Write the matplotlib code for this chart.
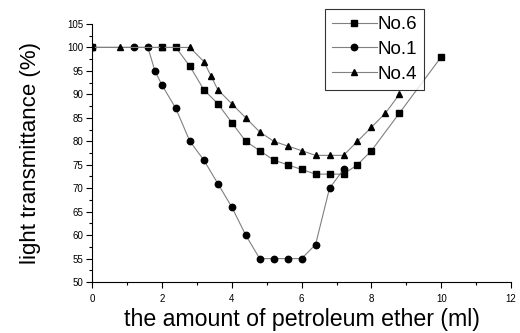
import matplotlib.pyplot as plt
from matplotlib.ticker import MultipleLocator

plt.rcParams['font.family'] = ['Liberation Sans', 'DejaVu Sans']

# No.6 (squares)
x6 = [0, 2.0, 2.4, 2.8, 3.2, 3.6, 4.0, 4.4, 4.8, 5.2, 5.6, 6.0, 6.4, 6.8, 7.2, 7.6, 8.0, 8.8, 10.0]
y6 = [100, 100, 100, 96, 91, 88, 84, 80, 78, 76, 75, 74, 73, 73, 73, 75, 78, 86, 98]

# No.1 (circles)
x1 = [0, 1.2, 1.6, 1.8, 2.0, 2.4, 2.8, 3.2, 3.6, 4.0, 4.4, 4.8, 5.2, 5.6, 6.0, 6.4, 6.8, 7.2]
y1 = [100, 100, 100, 95, 92, 87, 80, 76, 71, 66, 60, 55, 55, 55, 55, 58, 70, 74]

# No.4 (triangles)
x4 = [0, 0.8, 2.0, 2.8, 3.2, 3.4, 3.6, 4.0, 4.4, 4.8, 5.2, 5.6, 6.0, 6.4, 6.8, 7.2, 7.6, 8.0, 8.4, 8.8]
y4 = [100, 100, 100, 100, 97, 94, 91, 88, 85, 82, 80, 79, 78, 77, 77, 77, 80, 83, 86, 90]

fig = plt.figure(figsize=(5.2, 3.33), dpi=100)
ax = fig.add_axes([0.177, 0.153, 0.806, 0.775])

line_kw = dict(color='#808080', linewidth=0.8, markerfacecolor='black',
               markeredgecolor='black')
ax.plot(x6, y6, marker='s', markersize=4.2, label='No.6', **line_kw)
ax.plot(x1, y1, marker='o', markersize=4.6, label='No.1', **line_kw)
ax.plot(x4, y4, marker='^', markersize=5, label='No.4', **line_kw)

ax.set_xlim(0, 12)
ax.set_ylim(50, 105)
ax.xaxis.set_major_locator(MultipleLocator(2))
ax.xaxis.set_minor_locator(MultipleLocator(1))
ax.yaxis.set_major_locator(MultipleLocator(5))
ax.yaxis.set_minor_locator(MultipleLocator(2.5))
ax.tick_params(which='major', direction='out', length=4.5, width=0.8, labelsize=7)
ax.tick_params(axis='x', which='major', pad=4)
ax.tick_params(axis='y', which='major', pad=1.5)
ax.tick_params(which='minor', direction='out', length=2.5, width=0.8)

ax.spines['top'].set_visible(False)
ax.spines['right'].set_visible(False)
for s in ('left', 'bottom'):
    ax.spines[s].set_linewidth(0.8)

ax.set_xlabel('the amount of petroleum ether (ml)', fontsize=16.7, labelpad=3)
ax.set_ylabel('light transmittance (%)', fontsize=16, labelpad=19)

leg = ax.legend(loc='upper left', bbox_to_anchor=(0.555, 1.058), fontsize=13.5,
                frameon=True, fancybox=False, edgecolor='black',
                handlelength=2.4, handletextpad=0.05, borderpad=0.38,
                labelspacing=0.4, borderaxespad=0)
leg.get_frame().set_linewidth(0.8)

fig.savefig('out.png', dpi=100)
